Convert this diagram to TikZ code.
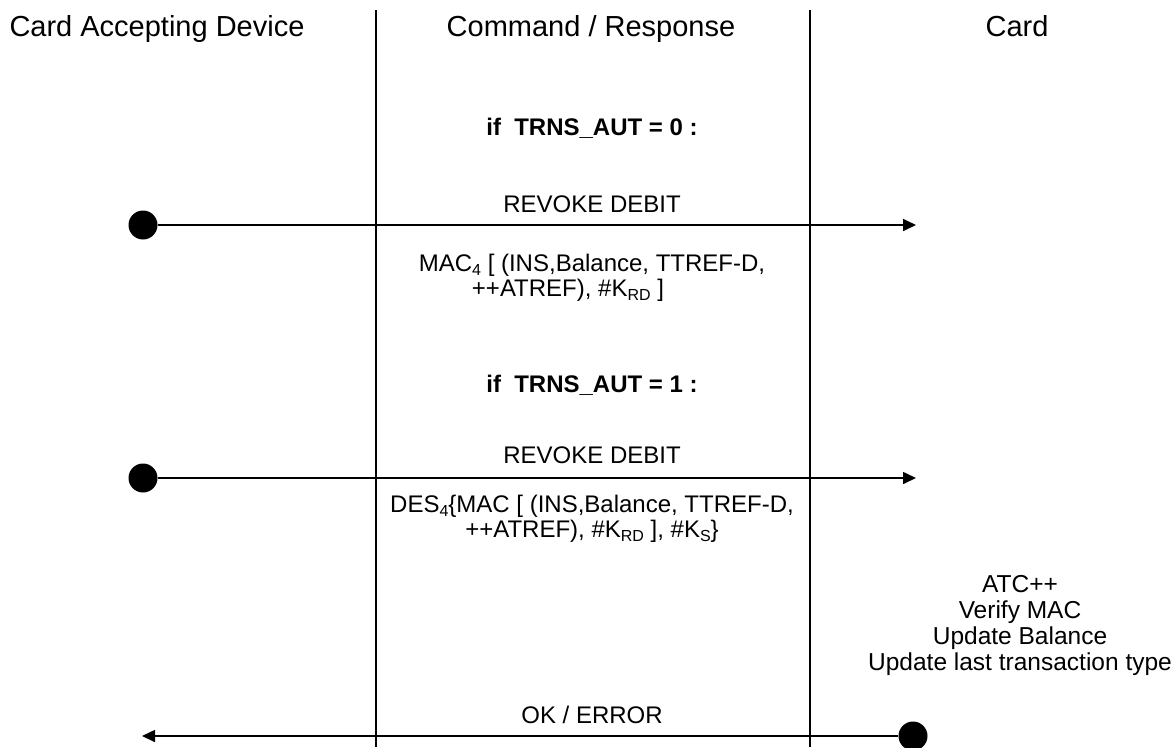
\documentclass[tikz,border=0pt]{standalone}
\usepackage{fontspec}
\setmainfont{Liberation Sans}
\usetikzlibrary{arrows.meta}
\newcommand\mysub[1]{\raisebox{-0.35ex}{\fontsize{16}{16}\selectfont #1}}
\begin{document}
\begin{tikzpicture}[x=1pt,y=-1pt,
  title/.style={font=\fontsize{29}{34}\selectfont, anchor=base, inner sep=0},
  lbl/.style={font=\fontsize{24}{25}\selectfont, anchor=base, inner sep=0, align=center},
  cardtxt/.style={font=\fontsize{24.5}{26}\selectfont, anchor=base, inner sep=0, align=center},
  cond/.style={font=\fontsize{24}{25}\selectfont\bfseries, anchor=base, inner sep=0},
  life/.style={line width=2pt},
  msg/.style={line width=1.6pt, -{Triangle[length=13pt,width=12pt]}},
  dot/.style={circle, fill=black, minimum size=29pt, inner sep=0}]
\useasboundingbox (0,0) rectangle (1174,747);
% titles
\node[title] (hcad) at (157,36) {Card Accepting Device};
\node[title] (hcr) at (591,36) {Command / Response};
\node[title] (hcard) at (1017,36) {Card};
% lifelines
\coordinate (l1t) at (376,10);
\coordinate (l1b) at (376,747);
\coordinate (l2t) at (810,10);
\coordinate (l2b) at (810,747);
\draw[life] (l1t) -- (l1b);
\draw[life] (l2t) -- (l2b);
% block 1
\node[cond] (if0) at (592,135) {if~~TRNS\_AUT = 0 :};
\node[lbl] (rev1) at (592,212) {REVOKE DEBIT};
\node[dot] (d1) at (143,225) {};
\coordinate (t1) at (916,225);
\draw[msg] (d1) -- (t1);
\node[lbl] (mac1) at (592,296) {MAC\mysub{4} [ (INS,Balance, TTREF-D,\\ ++ATREF), \#K\mysub{RD} ]\hspace*{48pt}};
% block 2
\node[cond] (if1) at (592,392) {if~~TRNS\_AUT = 1 :};
\node[lbl] (rev2) at (592,463) {REVOKE DEBIT};
\node[dot] (d2) at (143,478) {};
\coordinate (t2) at (916,478);
\draw[msg] (d2) -- (t2);
\node[lbl] (des) at (592,537) {DES\mysub{4}\{MAC [ (INS,Balance, TTREF-D,\\ ++ATREF), \#K\mysub{RD} ], \#K\mysub{S}\}};
% card processing
\node[cardtxt] (proc) at (1020,670) {ATC++\\Verify MAC\\Update Balance\\Update last transaction type};
% response
\node[lbl] (ok) at (592,723) {OK / ERROR};
\node[dot] (d3) at (913,736) {};
\coordinate (t3) at (142,736);
\draw[msg] (d3) -- (t3);
\end{tikzpicture}
\end{document}
